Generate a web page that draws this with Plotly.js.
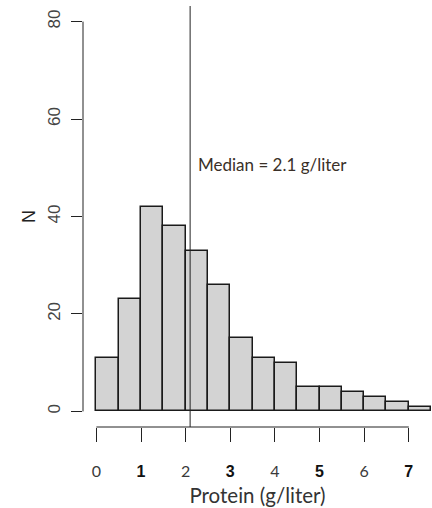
<!DOCTYPE html>
<html>
<head>
<meta charset="utf-8">
<script src="https://cdn.plot.ly/plotly-3.0.1.min.js"></script>
<style>
  html, body { margin: 0; padding: 0; background: #ffffff; }
  #chart { width: 432px; height: 508px; }
</style>
</head>
<body>
<div id="chart"></div>
<script>
// ---- data ----
const binEdges = [0, 0.5, 1, 1.5, 2, 2.5, 3, 3.5, 4, 4.5, 5, 5.5, 6, 6.5, 7, 7.5];
const counts = [11, 23, 42, 38, 33, 26, 15, 11, 10, 5, 5, 4, 3, 2, 1];
const xTickVals = [0, 1, 2, 3, 4, 5, 6, 7];
const xTickLabels = ['0', '1', '2', '3', '4', '5', '6', '7'];
const yTickVals = [0, 20, 40, 60, 80];
const yTickLabels = ['0', '20', '40', '60', '80'];
const medianProtein = 2.1;
const medianLabel = 'Median = 2.1 g/liter';
const medianLabelY = 50;
const xTitle = 'Protein (g/liter)';
const yTitle = 'N';

// ---- derived for the library ----
const centers = counts.map((_, i) => (binEdges[i] + binEdges[i + 1]) / 2);
const widths = counts.map((_, i) => binEdges[i + 1] - binEdges[i]);

const thinFont = 'Lato, "Open Sans", sans-serif';
const armFont = '"Liberation Sans", Arial, sans-serif';
const styledXTicks = xTickLabels.map((t, i) => i % 2 === 0
  ? '<span style="font-family:Lato;color:#3a3a3a">' + t + '</span>'
  : '<span style="font-family:Liberation Sans;font-weight:bold;color:#111">' + t + '</span>');

const trace = {
  type: 'bar',
  x: centers,
  y: counts,
  width: widths,
  marker: { color: '#d3d3d3', line: { color: '#1a1a1a', width: 1.5 } },
  hoverinfo: 'x+y'
};

const layout = {
  width: 432,
  height: 508,
  margin: { l: 83, r: 0, t: 6, b: 81, pad: 0 },
  paper_bgcolor: '#ffffff',
  plot_bgcolor: '#ffffff',
  showlegend: false,
  bargap: 0,
  xaxis: {
    range: [-0.3, 7.52],
    showgrid: false, zeroline: false, showline: false,
    ticks: 'outside', ticklen: 14, tickwidth: 1, tickcolor: '#222',
    tickvals: xTickVals, ticktext: styledXTicks,
    tickfont: { family: thinFont, size: 16, color: '#333' },
    ticklabelstandoff: 16,
    title: { text: xTitle, font: { family: thinFont, size: 20.5, color: '#333' }, standoff: 9 },
    fixedrange: true
  },
  yaxis: {
    range: [-3.2, 83.2],
    showgrid: false, zeroline: false, showline: false,
    ticks: 'outside', ticklen: 11, tickwidth: 1, tickcolor: '#222',
    tickvals: yTickVals, ticktext: yTickLabels, tickangle: -90,
    tickfont: { family: armFont, size: 17, color: '#444' },
    ticklabelstandoff: 4,
    title: { text: yTitle, font: { family: armFont, size: 18, color: '#222' }, standoff: 4 },
    fixedrange: true
  },
  shapes: [
    { type: 'line', xref: 'x', yref: 'paper', x0: xTickVals[0], x1: xTickVals[xTickVals.length - 1], y0: 0, y1: 0,
      line: { color: '#222', width: 1 } },
    { type: 'line', xref: 'paper', yref: 'y', x0: 0, x1: 0, y0: yTickVals[0], y1: yTickVals[yTickVals.length - 1],
      line: { color: '#222', width: 1 } },
    { type: 'line', xref: 'x', yref: 'paper', x0: medianProtein, x1: medianProtein, y0: 0, y1: 1,
      line: { color: '#222', width: 1 }, layer: 'above' }
  ],
  annotations: [
    { x: medianProtein, y: medianLabelY, xref: 'x', yref: 'y', text: medianLabel, showarrow: false,
      xanchor: 'left', yanchor: 'middle', xshift: 6, yshift: 3,
      font: { family: thinFont, size: 17, color: '#3a3028' } }
  ]
};

Plotly.newPlot('chart', [trace], layout, { displayModeBar: false, staticPlot: false });
</script>
</body>
</html>
